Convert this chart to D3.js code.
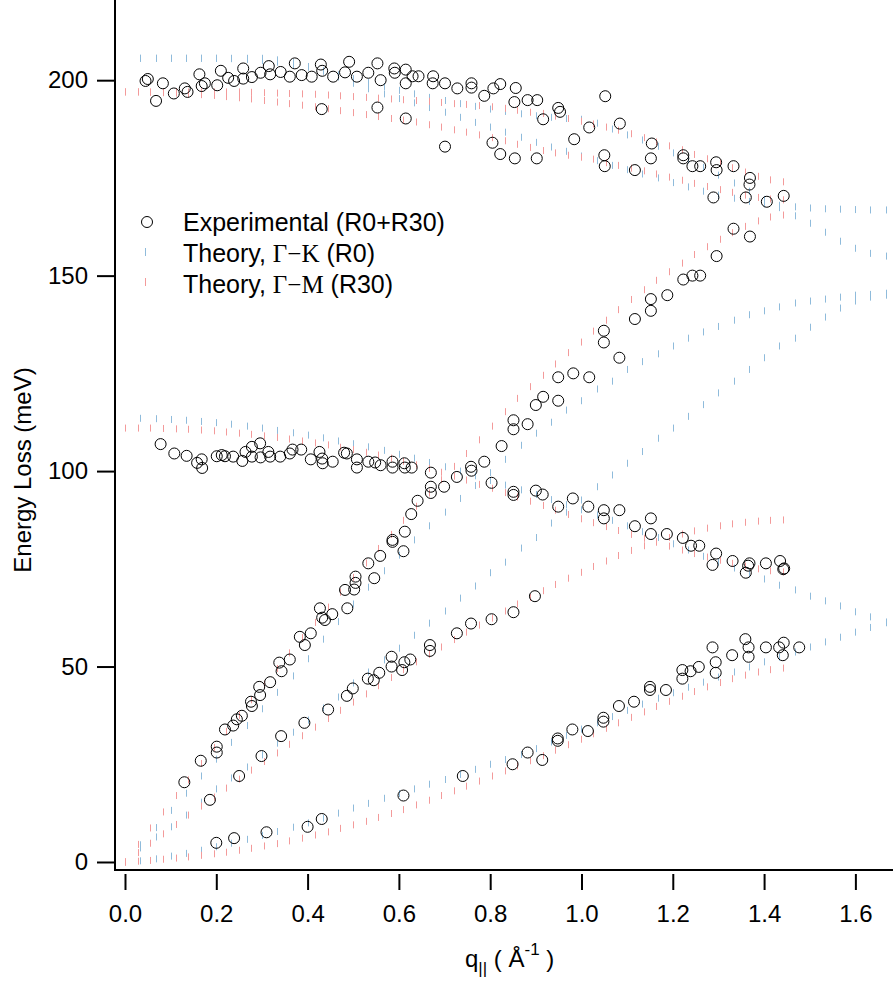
<!DOCTYPE html>
<html>
<head>
<meta charset="utf-8">
<script src="https://cdn.jsdelivr.net/npm/d3@7"></script>
<style>
  body { margin: 0; background: #fff; }
  svg text { font-family: "Liberation Sans", Arial, sans-serif; fill: #000; }
</style>
</head>
<body>
<svg id="chart" width="893" height="987"></svg>
<script>
// ---- experimental points (q in 1/A, energy loss in meV) ----
const expQ = [
  0.045,0.050,0.068,0.083,0.107,0.131,0.137,0.163,0.168,0.175,0.202,0.210,0.226,0.239,0.259,0.259,0.278,0.297,0.315,0.318,
  0.341,0.361,0.372,0.387,0.409,0.429,0.432,0.431,0.456,0.482,0.491,0.508,0.533,0.553,0.553,0.560,0.590,0.591,0.615,0.615,
  0.615,0.630,0.643,0.675,0.674,0.701,0.701,0.728,0.759,0.759,0.787,0.807,0.822,0.805,0.822,0.856,0.853,0.882,0.903,0.916,
  0.949,0.953,0.984,1.017,1.052,1.084,1.154,1.223,1.223,1.243,1.260,1.295,1.296,1.333,1.369,1.368,1.289,1.360,1.406,1.443,
  0.854,0.902,1.050,1.051,1.117,1.152,
  1.333,1.369,1.296,1.223,1.243,1.260,1.188,1.152,1.152,1.117,1.083,1.049,1.049,1.017,0.982,0.949,0.949,0.916,0.900,0.851,
  0.851,0.882,0.825,0.803,0.787,0.758,0.759,0.727,0.699,0.670,0.670,0.670,0.641,0.627,0.613,0.610,0.586,0.586,0.559,0.546,
  0.533,0.505,0.505,0.502,0.482,0.487,0.454,0.438,0.432,0.427,0.407,0.394,0.383,0.361,0.343,0.338,0.318,0.296,0.294,0.278,
  0.276,0.256,0.245,0.237,0.219,0.201,0.201,0.166,0.130,
  0.078,0.108,0.135,0.158,0.168,0.169,0.201,0.212,0.219,0.237,0.257,0.264,0.278,0.278,0.296,0.297,0.314,0.318,0.340,0.361,
  0.367,0.386,0.407,0.426,0.432,0.433,0.455,0.480,0.486,0.508,0.508,0.533,0.548,0.560,0.586,0.586,0.612,0.613,0.628,
  0.851,0.851,0.900,0.915,0.949,0.981,1.015,1.049,1.049,1.083,1.117,1.152,1.152,1.187,1.222,1.240,1.258,1.295,1.287,1.331,
  1.368,1.365,1.360,1.404,1.435,1.442,1.444,
  0.186,0.250,0.299,0.342,0.393,0.445,0.486,0.499,0.532,0.545,0.557,0.584,0.584,0.607,0.612,0.625,0.668,0.668,0.727,0.758,
  0.803,0.851,0.898,
  0.200,0.239,0.310,0.400,0.431,0.610,0.740,0.849,0.882,0.914,0.948,0.948,0.980,1.014,1.048,1.048,1.082,1.115,1.150,1.150,
  1.185,1.221,1.221,1.239,1.257,1.287,1.294,1.294,1.330,1.359,1.366,1.366,1.404,1.433,1.443,1.441,1.477
];
const expE = [
  199.8,200.3,194.7,199.2,196.6,197.9,197.0,201.5,198.5,199.2,198.7,202.4,200.6,199.8,203.0,200.4,200.8,201.9,203.6,201.5,
  202.1,200.9,204.3,201.3,200.9,204.0,202.4,192.6,200.9,202.0,204.7,200.9,201.9,204.3,193.0,200.0,203.0,201.9,202.7,199.2,
  190.2,201.0,201.0,201.0,199.2,199.2,183.0,197.9,199.2,198.1,196.0,197.9,199.0,184.0,181.1,198.0,194.4,194.9,194.9,190.0,
  192.9,191.9,184.9,187.9,195.9,188.9,183.8,180.8,180.0,178.0,178.0,179.0,177.0,178.0,175.0,173.3,170.0,170.0,168.9,170.4,
  180.0,180.0,180.8,178.0,177.0,180.0,
  162.0,160.0,155.0,149.0,150.0,150.0,145.0,144.0,141.0,138.9,129.0,135.9,132.9,124.0,125.0,124.0,118.0,119.0,116.9,113.0,
  110.7,112.0,106.4,97.0,102.4,101.1,100.1,98.5,96.0,99.6,96.0,94.4,92.4,89.0,84.5,79.5,81.9,82.4,78.3,72.6,
  76.4,73.0,71.4,69.7,69.6,64.9,63.4,61.9,62.5,64.9,58.5,55.5,57.6,51.8,48.8,51.0,46.0,42.7,44.8,39.9,
  41.0,37.4,36.5,34.9,33.9,29.5,28.0,25.9,20.4,
  106.9,104.5,103.9,102.1,103.0,100.8,103.8,104.1,103.8,103.7,102.6,104.9,106.2,103.7,107.1,103.5,104.9,103.7,103.7,104.5,
  105.5,105.5,103.0,104.9,103.2,102.0,102.4,104.7,104.5,103.0,100.9,102.4,102.2,101.5,102.4,100.9,102.0,100.9,100.9,
  94.7,93.9,95.0,94.0,90.9,93.0,90.9,90.0,87.9,90.0,85.9,87.9,83.9,83.9,82.9,80.9,80.9,78.9,76.0,77.0,
  76.4,75.8,74.0,76.4,77.0,74.9,75.1,
  15.9,22.0,27.1,32.2,35.6,39.0,42.5,44.4,46.9,46.5,48.4,52.5,50.0,49.1,51.1,51.8,55.5,54.0,58.5,61.0,
  62.1,63.9,68.0,
  4.9,6.1,7.6,9.0,11.0,17.0,22.0,25.0,28.0,26.1,31.0,31.6,33.9,33.5,36.9,35.9,39.9,41.0,44.8,44.0,
  44.0,49.1,46.9,48.8,49.9,54.9,51.1,48.4,52.9,57.0,54.9,52.5,54.9,54.9,56.1,52.9,54.9
];

// ---- theory, Gamma-K (R0): q grid and one array per branch ----
const qGK = [0.033,0.067,0.100,0.133,0.167,0.200,0.233,0.267,0.300,0.333,0.367,0.400,0.433,0.467,0.500,0.533,0.567,0.600,0.633,0.667,
  0.700,0.733,0.767,0.800,0.833,0.867,0.900,0.933,0.967,1.000,1.033,1.067,1.100,1.133,1.167,1.200,1.233,1.267,1.300,1.333,
  1.367,1.400,1.433,1.467,1.500,1.533,1.567,1.600,1.633,1.667];
const gkZA = [0.3,0.8,1.5,2.2,3.0,3.9,4.8,5.8,6.8,7.8,8.9,10.0,11.2,12.5,13.8,15.0,16.3,17.5,18.7,19.9,
  21.1,22.4,23.7,25.0,26.2,27.5,29.0,30.7,32.4,34.0,35.6,37.2,38.8,40.4,41.9,43.3,44.7,46.0,47.3,48.6,
  49.9,51.2,52.4,53.7,55.0,56.3,57.5,58.8,60.0,61.2];
const gkZO = [113.5,113.4,113.2,113.0,112.7,112.4,112.0,111.5,111.0,110.4,109.8,109.2,108.5,107.7,107.0,106.2,105.3,104.3,103.3,102.2,
  101.1,100.0,98.8,97.6,96.4,95.2,94.0,92.7,91.4,90.1,88.8,87.4,86.0,84.5,83.0,81.4,79.8,78.2,76.7,75.2,
  73.7,72.4,70.8,69.6,68.0,66.8,65.5,64.0,62.7,61.4];
const gkTA = [3.6,6.4,9.0,12.0,15.3,18.7,21.5,24.3,27.4,30.4,33.2,36.3,39.4,42.2,45.8,48.6,51.7,54.7,58.0,61.1,
  64.2,67.5,70.6,74.0,76.7,80.3,83.0,86.7,89.5,92.6,96.0,99.0,102.0,105.0,108.4,111.0,114.0,117.0,120.0,123.0,
  126.0,129.0,132.0,134.0,136.8,139.4,141.7,143.5,144.5,145.0];
const gkLA = [4.4,8.8,13.2,17.6,22.0,26.3,30.6,34.9,39.2,43.4,47.6,52.0,57.0,61.5,66.0,70.3,74.5,78.5,82.4,86.0,
  89.5,93.0,96.3,99.6,103.0,106.6,109.7,112.5,115.6,118.0,121.0,123.0,126.0,128.0,130.0,132.0,134.0,135.6,137.0,138.6,
  140.0,141.0,142.0,143.0,143.5,144.0,144.5,145.0,145.2,145.5];
const gkLO = [205.6,205.6,205.6,205.6,205.6,205.6,205.6,205.6,205.6,205.2,204.5,203.5,202.3,200.8,199.2,197.8,196.5,195.3,194.2,193.0,
  191.8,190.5,189.2,188.0,186.7,185.4,184.1,182.9,181.8,180.6,179.4,178.2,177.1,176.0,175.0,173.8,172.7,171.6,170.6,169.8,
  169.0,168.4,168.0,167.6,167.3,167.1,167.0,166.9,166.8,166.8];
const gkTO = [205.6,205.6,205.6,205.6,205.6,205.6,205.5,205.3,205.0,204.6,204.0,203.3,202.4,201.4,200.4,199.4,198.4,197.4,196.5,195.6,
  194.8,194.0,193.3,192.6,192.0,191.4,190.9,190.5,190.2,190.0,189.0,187.5,186.0,184.7,183.1,181.4,179.6,177.7,175.7,173.7,
  171.6,169.5,167.4,165.3,163.4,161.1,158.8,157.0,155.7,155.0];

// ---- theory, Gamma-M (R30) ----
const qGM = [0.000,0.028,0.055,0.083,0.111,0.139,0.166,0.194,0.222,0.249,0.277,0.305,0.333,0.360,0.388,0.416,0.444,0.471,0.499,0.527,
  0.554,0.582,0.610,0.638,0.665,0.693,0.721,0.748,0.776,0.804,0.832,0.859,0.887,0.915,0.942,0.970,0.998,1.026,1.053,1.081,
  1.109,1.136,1.164,1.192,1.220,1.247,1.275,1.303,1.330,1.358,1.386,1.414,1.441];
const gmZA = [0,0.2,0.4,0.7,1.0,1.3,1.7,2.1,2.5,3.0,3.5,4.1,4.7,5.4,6.1,6.9,7.7,8.6,9.5,10.4,
  11.4,12.4,13.4,14.6,15.8,17.0,18.2,19.4,20.7,22.0,23.3,24.6,25.9,27.2,28.6,30.0,31.4,32.8,34.2,35.6,
  37.0,38.4,39.8,41.1,42.4,43.6,44.8,45.9,46.9,47.8,48.6,49.2,49.6];
const gmTA = [0,2.4,4.8,7.2,9.6,12.0,14.3,16.6,18.9,21.2,23.5,25.7,27.9,30.1,32.3,34.5,36.7,38.8,40.9,43.0,
  45.1,47.2,49.2,51.2,53.1,55.0,56.9,58.8,60.6,62.4,64.2,66.0,67.7,69.4,71.0,72.6,74.1,75.6,77.0,78.4,
  79.7,80.9,82.0,83.0,83.9,84.7,85.4,86.0,86.5,86.9,87.2,87.4,87.5];
const gmZO = [111.0,111.0,111.0,110.9,110.8,110.7,110.5,110.3,110.0,109.7,109.4,109.0,108.6,108.2,107.7,107.2,106.7,106.1,105.5,104.8,
  104.1,103.3,102.5,101.6,100.7,99.7,98.7,97.7,96.6,95.6,94.5,93.4,92.3,91.2,90.0,88.9,87.8,86.8,85.8,84.8,
  83.8,82.8,81.8,80.8,79.8,78.9,78.0,77.2,76.4,75.7,75.0,74.5,74.2];
const gmLA = [0,4.5,8.7,12.8,17.0,21.0,25.2,29.3,33.4,37.5,41.5,45.5,49.5,53.5,57.4,61.3,65.2,69.0,72.8,76.5,
  80.2,83.8,87.4,91.0,94.4,97.8,101.2,104.5,108.0,111.5,115.2,118.6,121.6,124.5,127.4,130.3,133.0,135.8,138.6,141.3,
  143.9,146.4,148.8,151.0,153.2,155.4,157.4,159.3,161.0,162.6,164.0,165.0,165.5];
const gmLO = [197.0,197.0,196.9,196.8,196.7,196.5,196.3,196.1,195.8,195.5,195.2,194.8,194.4,194.0,193.6,193.2,192.7,192.2,191.7,191.2,
  190.7,190.2,189.8,189.3,188.6,188.0,187.3,186.7,186.0,185.3,184.5,183.6,182.8,182.0,181.4,180.8,180.3,179.8,178.9,178.2,
  177.5,176.8,176.0,175.2,174.4,173.6,172.8,172.0,171.3,170.6,170.0,169.6,169.4];
const gmTO = [197.0,197.0,197.0,197.0,197.0,197.0,197.0,197.0,197.0,197.0,196.9,196.8,196.7,196.6,196.5,196.4,196.2,196.0,195.8,195.6,
  195.4,195.2,195.0,194.8,194.6,194.3,194.0,193.8,193.5,193.2,192.8,192.3,191.8,191.5,190.8,190.2,189.5,188.8,188.0,187.2,
  186.3,185.3,184.2,183.2,182.2,181.0,179.9,178.8,177.6,176.5,175.4,174.5,174.0];

const xTicks = [0, 0.2, 0.4, 0.6, 0.8, 1.0, 1.2, 1.4, 1.6];
const yTicks = [0, 50, 100, 150, 200];

const blue = "#8fbbdb";
const red = "#f39a9a";

const svg = d3.select("#chart");

// scales
const x = d3.scaleLinear().domain([-0.0219, 1.6824]).range([115, 893]);
const y = d3.scaleLinear().domain([-2.05, 220]).range([870, 2]);

// theory ticks (short vertical dashes)
function drawBranches(qs, branches, color) {
  const g = svg.append("g").attr("stroke", color).attr("stroke-width", 1);
  branches.forEach(E => {
    g.selectAll(null)
      .data(qs.map((q, i) => [q, E[i]]))
      .enter()
      .append("line")
      .attr("x1", d => Math.round(x(d[0])) + 0.5)
      .attr("x2", d => Math.round(x(d[0])) + 0.5)
      .attr("y1", d => y(d[1]) - 3.5)
      .attr("y2", d => y(d[1]) + 3.5);
  });
}
drawBranches(qGK, [gkZA, gkZO, gkTA, gkLA, gkLO, gkTO], blue);
drawBranches(qGM, [gmZA, gmTA, gmZO, gmLA, gmLO, gmTO], red);

// experimental circles
svg.append("g")
  .selectAll("circle")
  .data(expQ.map((q, i) => [q, expE[i]]))
  .enter()
  .append("circle")
  .attr("cx", d => x(d[0]))
  .attr("cy", d => y(d[1]))
  .attr("r", 5.5)
  .attr("fill", "none")
  .attr("stroke", "#000")
  .attr("stroke-width", 1);

// axes
const xAxis = d3.axisBottom(x).tickValues(xTicks).tickFormat(d3.format(".1f"))
  .tickSize(16).tickPadding(15);
const yAxis = d3.axisLeft(y).tickValues(yTicks).tickFormat(d3.format("d"))
  .tickSize(18).tickPadding(9);

const gx = svg.append("g").attr("transform", "translate(0,874)").call(xAxis);
const gy = svg.append("g").attr("transform", "translate(115,0)").call(yAxis);
[gx, gy].forEach(g => {
  g.select(".domain").remove();
  g.selectAll(".tick line").attr("stroke", "#000").attr("stroke-width", 2);
  g.selectAll(".tick text").style("font-size", "24px").attr("fill", "#000");
});

// axis lines
svg.append("line").attr("x1", 115).attr("x2", 115).attr("y1", 0).attr("y2", 871)
  .attr("stroke", "#000").attr("stroke-width", 2);
svg.append("line").attr("x1", 114).attr("x2", 893).attr("y1", 870).attr("y2", 870)
  .attr("stroke", "#000").attr("stroke-width", 2);

// axis titles
svg.append("text")
  .attr("transform", "translate(31,470) rotate(-90)")
  .attr("text-anchor", "middle")
  .style("font-size", "24px")
  .text("Energy Loss (meV)");

const xl = svg.append("text").attr("x", 465).attr("y", 967).style("font-size", "24px");
xl.append("tspan").text("q");
xl.append("tspan").attr("dy", 7).style("font-size", "17px").text("||");
xl.append("tspan").attr("dy", -7).text(" ( Å");
xl.append("tspan").attr("dy", -12).style("font-size", "17px").text("-1");
xl.append("tspan").attr("dy", 12).text(" )");

// legend
const lg = svg.append("g");
lg.append("circle").attr("cx", 147).attr("cy", 222).attr("r", 5.5)
  .attr("fill", "none").attr("stroke", "#000");
lg.append("line").attr("x1", 145.5).attr("x2", 145.5).attr("y1", 248).attr("y2", 256)
  .attr("stroke", blue);
lg.append("line").attr("x1", 145.5).attr("x2", 145.5).attr("y1", 278).attr("y2", 286)
  .attr("stroke", red);
lg.append("text").attr("x", 183).attr("y", 231).style("font-size", "25px").text("Experimental (R0+R30)");
const t2 = lg.append("text").attr("x", 183).attr("y", 262).style("font-size", "25px");
t2.append("tspan").text("Theory, ");
t2.append("tspan").style("font-family", "'Liberation Serif', serif").text("Γ−K");
t2.append("tspan").text(" (R0)");
const t3 = lg.append("text").attr("x", 183).attr("y", 293).style("font-size", "25px");
t3.append("tspan").text("Theory, ");
t3.append("tspan").style("font-family", "'Liberation Serif', serif").text("Γ−M");
t3.append("tspan").text(" (R30)");
</script>
</body>
</html>
